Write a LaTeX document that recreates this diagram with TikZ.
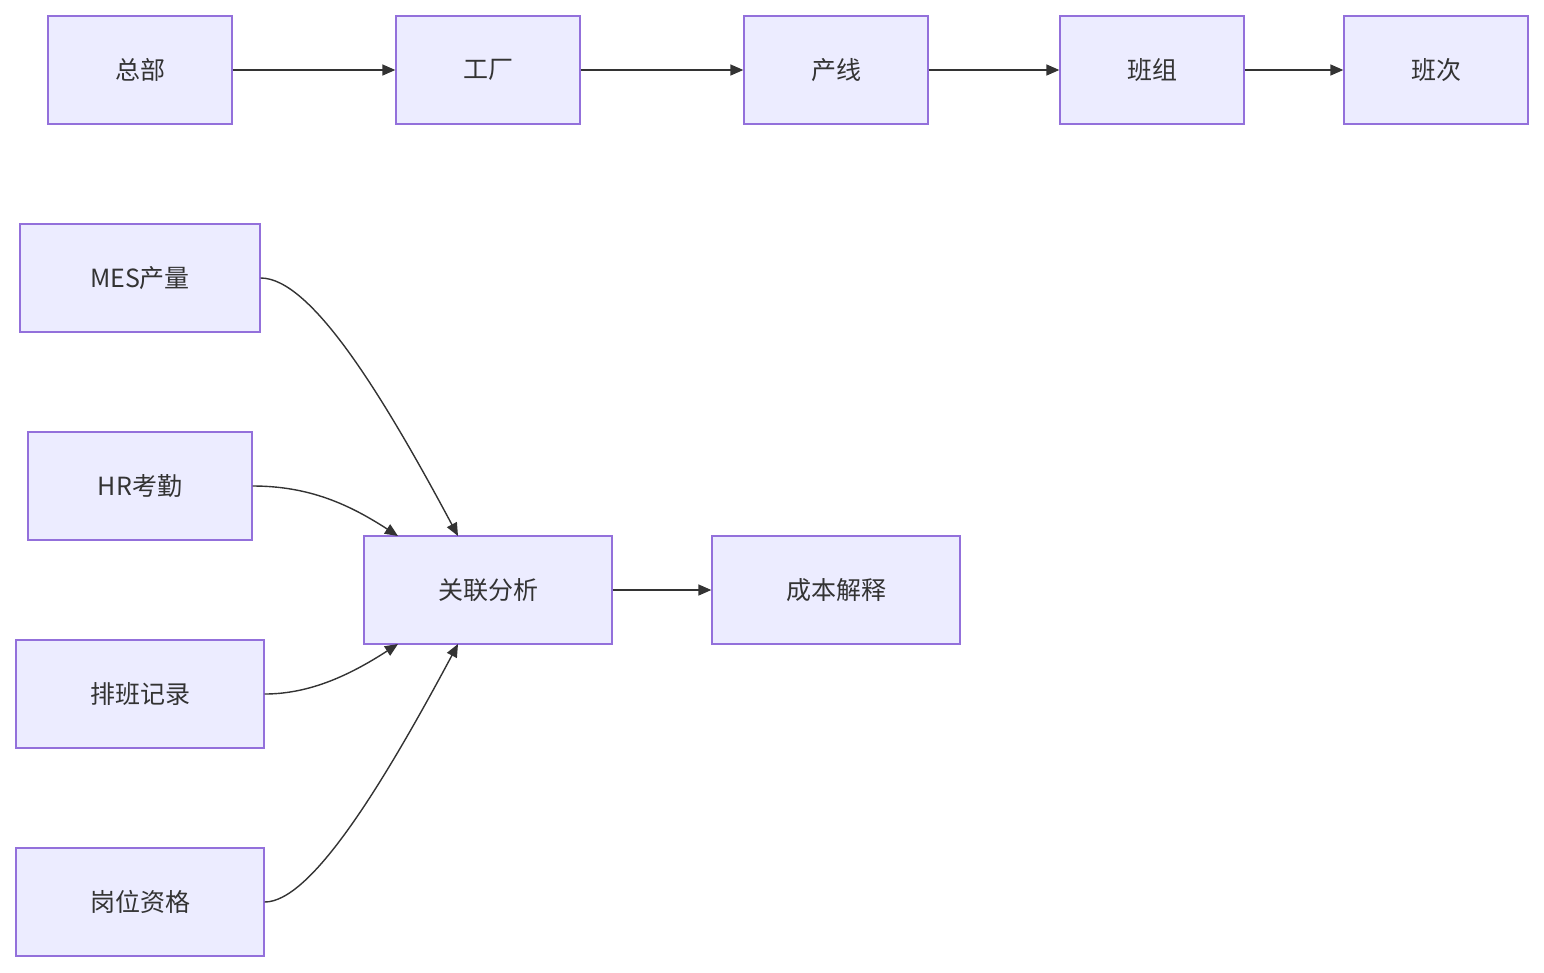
\documentclass[tikz,border=0pt]{standalone}
\usepackage{fontspec}
\setmainfont{Noto Sans CJK SC}
\usetikzlibrary{arrows.meta}
\definecolor{nf}{HTML}{ECECFF}
\definecolor{nd}{HTML}{9370DB}
\definecolor{ln}{HTML}{333333}
\begin{document}
\begin{tikzpicture}[x=1pt,y=-1pt,
  box/.style={draw=nd,fill=nf,line width=1.3pt,minimum height=108pt,inner sep=0pt,font=\fontsize{25}{30}\selectfont,text=ln},
  arr/.style={draw=ln,line width=1.4pt,-{Triangle[length=13pt,width=11pt]}}]
\useasboundingbox (0,0) rectangle (1544,972);
\node[box,minimum width=184pt] (a) at (140,70) {总部};
\node[box,minimum width=184pt] (b) at (488,70) {工厂};
\node[box,minimum width=184pt] (c) at (836,70) {产线};
\node[box,minimum width=184pt] (d) at (1152,70) {班组};
\node[box,minimum width=184pt] (e) at (1436,70) {班次};
\node[box,minimum width=240pt] (m) at (140,278) {MES产量};
\node[box,minimum width=224pt] (h) at (140,486) {HR考勤};
\node[box,minimum width=248pt] (p) at (140,694) {排班记录};
\node[box,minimum width=248pt] (g) at (140,902) {岗位资格};
\node[box,minimum width=248pt] (r) at (488,590) {关联分析};
\node[box,minimum width=248pt] (s) at (836,590) {成本解释};
\draw[arr] (a) -- (b);
\draw[arr] (b) -- (c);
\draw[arr] (c) -- (d);
\draw[arr] (d) -- (e);
\draw[arr] (r) -- (s);
\draw[arr] (m.east) .. controls (310,278) and (380,390) .. (458,536);
\draw[arr] (h.east) .. controls (310,486) and (350,505) .. (398,536);
\draw[arr] (p.east) .. controls (310,694) and (350,675) .. (398,644);
\draw[arr] (g.east) .. controls (310,902) and (380,790) .. (458,644);
\end{tikzpicture}
\end{document}
